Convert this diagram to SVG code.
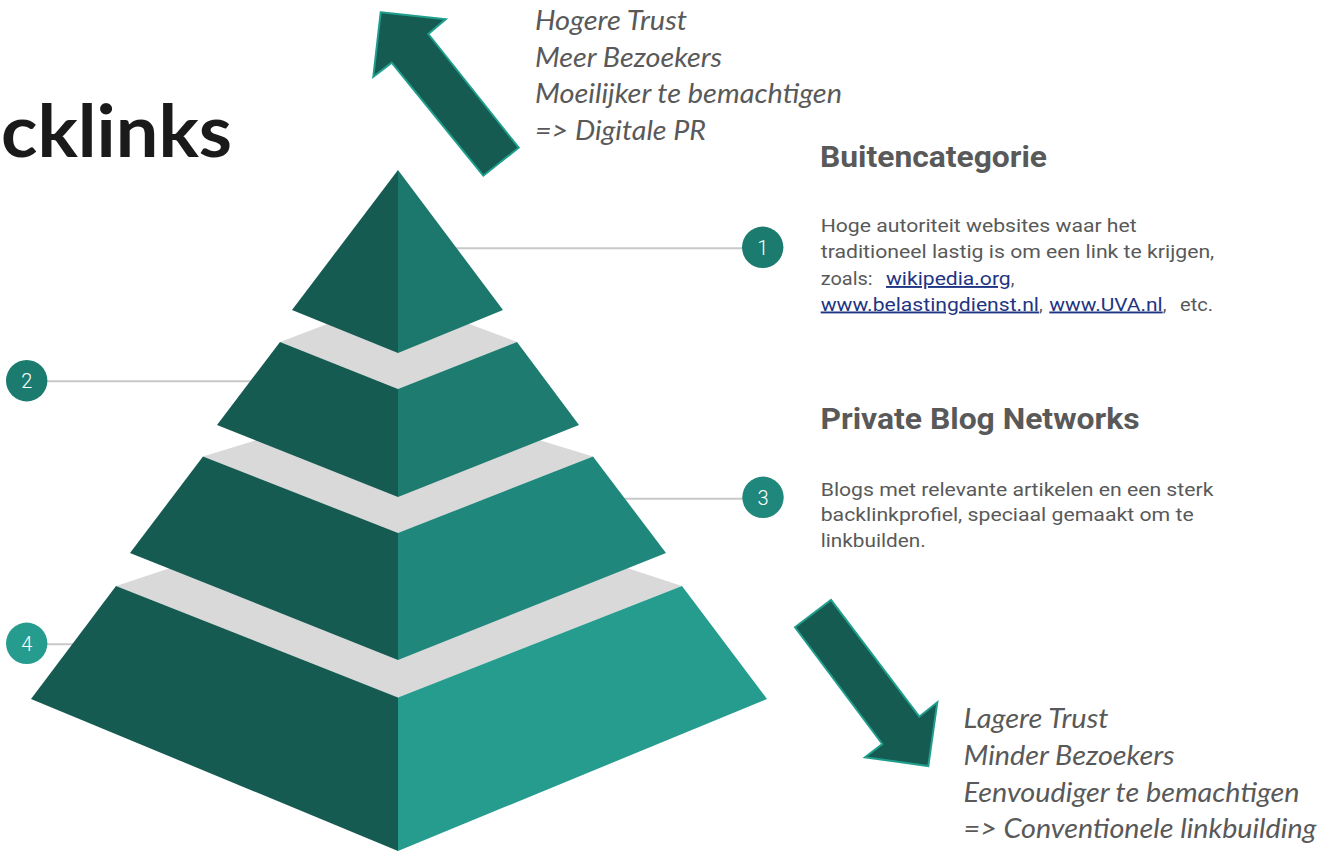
<svg xmlns="http://www.w3.org/2000/svg" width="1323" height="851" viewBox="0 0 1323 851">
<defs>
<style>
.dark{fill:#165b52}
.gray{fill:#d9d9d9}
.conn{stroke:#c8c8c8;stroke-width:2;fill:none}
.num{font-family:Roboto,"Liberation Sans",sans-serif;font-size:20px;font-weight:300;fill:#ffffff;text-anchor:middle}
.it{font-family:Lato,"Liberation Sans",sans-serif;font-style:italic;font-size:27.5px;fill:#595959}
.h{font-family:Roboto,"Liberation Sans",sans-serif;font-weight:700;font-size:30px;fill:#595959}
.b{font-family:Roboto,"Liberation Sans",sans-serif;font-size:19px;fill:#595959}
.lk{fill:#1f3583;text-decoration:underline}
.arrow{fill:#165b52;stroke:#1f9e8c;stroke-width:2;stroke-linejoin:miter}
</style>
</defs>
<rect width="1323" height="851" fill="#ffffff"/>

<g id="title">
<text x="1" y="157" font-family="Lato,'Liberation Sans',sans-serif" font-weight="700" font-size="72" fill="#1a1a1a" textLength="231" lengthAdjust="spacingAndGlyphs">cklinks</text>
</g>

<g id="connectors">
<line class="conn" x1="440" y1="248.3" x2="745" y2="248.3"/>
<line class="conn" x1="47" y1="381.3" x2="260" y2="381.3"/>
<line class="conn" x1="600" y1="498.8" x2="745" y2="498.8"/>
<line class="conn" x1="47" y1="644.3" x2="90" y2="644.3"/>
</g>

<g id="tier4">
<polygon class="gray" points="116,586 398,493 682,586 398,697.5"/>
<polygon class="dark" points="116,586 398,697.5 398,851 31,699"/>
<polygon fill="#269c8f" points="398,697.5 682,586 767,699 398,851"/>
</g>

<g id="tier3">
<polygon class="gray" points="203,456.5 398,396.6 593,456.5 398,533"/>
<polygon class="dark" points="203,456.5 398,533 398,660 130,553"/>
<polygon fill="#1f877b" points="398,533 593,456.5 666,553 398,660"/>
</g>

<g id="tier2">
<polygon class="gray" points="280,342 398,297 517,342 398,389"/>
<polygon class="dark" points="280,342 398,389 398,497 217,425"/>
<polygon fill="#1e7b70" points="398,389 517,342 579,425 398,497"/>
</g>

<g id="tier1">
<polygon class="dark" points="398,170 398,353 292,310"/>
<polygon fill="#1c776c" points="398,170 503,310 398,353"/>
</g>

<g id="badge1">
<circle cx="762.7" cy="247.3" r="20.7" fill="#1c7b6f"/>
<text class="num" x="762.7" y="254.5">1</text>
</g>
<g id="badge2">
<circle cx="26.7" cy="380.7" r="20.7" fill="#1c7b6f"/>
<text class="num" x="26.7" y="388">2</text>
</g>
<g id="badge3">
<circle cx="763" cy="497.3" r="20.7" fill="#1f877b"/>
<text class="num" x="763" y="504.5">3</text>
</g>
<g id="badge4">
<circle cx="26.7" cy="643.3" r="20.7" fill="#269c8f"/>
<text class="num" x="26.7" y="650.5">4</text>
</g>

<g id="arrow-up">
<polygon class="arrow" points="380.7,12.3 445.7,19.3 428.3,34 518.7,147.7 483.3,175.7 391.7,62.7 373.3,76.7"/>
</g>
<g id="arrow-down">
<polygon class="arrow" points="795,627.3 831,600 919.3,716.7 937.3,702.3 928.3,766 865,757.3 882.3,744"/>
</g>

<g id="text-top">
<text class="it" x="535" y="30" textLength="152" lengthAdjust="spacingAndGlyphs">Hogere Trust</text>
<text class="it" x="535" y="66.5" textLength="187" lengthAdjust="spacingAndGlyphs">Meer Bezoekers</text>
<text class="it" x="535" y="103" textLength="307" lengthAdjust="spacingAndGlyphs">Moeilijker te bemachtigen</text>
<text class="it" x="535" y="139.5" textLength="171" lengthAdjust="spacingAndGlyphs">=&gt; Digitale PR</text>
</g>

<g id="text-bottom">
<text class="it" x="963.5" y="728.3" textLength="145" lengthAdjust="spacingAndGlyphs">Lagere Trust</text>
<text class="it" x="963.5" y="765" textLength="211" lengthAdjust="spacingAndGlyphs">Minder Bezoekers</text>
<text class="it" x="963.5" y="801.7" textLength="336" lengthAdjust="spacingAndGlyphs">Eenvoudiger te bemachtigen</text>
<text class="it" x="963.5" y="838.3" textLength="353" lengthAdjust="spacingAndGlyphs">=&gt; Conventionele linkbuilding</text>
</g>

<g id="desc1">
<text class="h" x="820" y="166.7" textLength="227" lengthAdjust="spacingAndGlyphs">Buitencategorie</text>
<text class="b" x="820.7" y="231.7" textLength="316" lengthAdjust="spacingAndGlyphs">Hoge autoriteit websites waar het</text>
<text class="b" x="820.7" y="258.3" textLength="393.6" lengthAdjust="spacingAndGlyphs">traditioneel lastig is om een link te krijgen,</text>
<text class="b" x="820.7" y="285" textLength="52" lengthAdjust="spacingAndGlyphs">zoals:</text>
<text class="b lk" x="886" y="285" textLength="124.7" lengthAdjust="spacingAndGlyphs">wikipedia.org</text>
<text class="b" x="1010.7" y="285">,</text>
<text class="b lk" x="820.7" y="310.5" textLength="218.3" lengthAdjust="spacingAndGlyphs">www.belastingdienst.nl</text>
<text class="b" x="1039" y="310.5">,</text>
<text class="b lk" x="1049.3" y="310.5" textLength="113.4" lengthAdjust="spacingAndGlyphs">www.UVA.nl</text>
<text class="b" x="1162.7" y="310.5">,</text>
<text class="b" x="1180" y="310.5" textLength="33" lengthAdjust="spacingAndGlyphs">etc.</text>
</g>

<g id="desc3">
<text class="h" x="820.5" y="429.3" textLength="319" lengthAdjust="spacingAndGlyphs">Private Blog Networks</text>
<text class="b" x="820.7" y="495.5" textLength="392.7" lengthAdjust="spacingAndGlyphs">Blogs met relevante artikelen en een sterk</text>
<text class="b" x="820.7" y="521" textLength="373" lengthAdjust="spacingAndGlyphs">backlinkprofiel, speciaal gemaakt om te</text>
<text class="b" x="820.7" y="546.7" textLength="105" lengthAdjust="spacingAndGlyphs">linkbuilden.</text>
</g>
</svg>
